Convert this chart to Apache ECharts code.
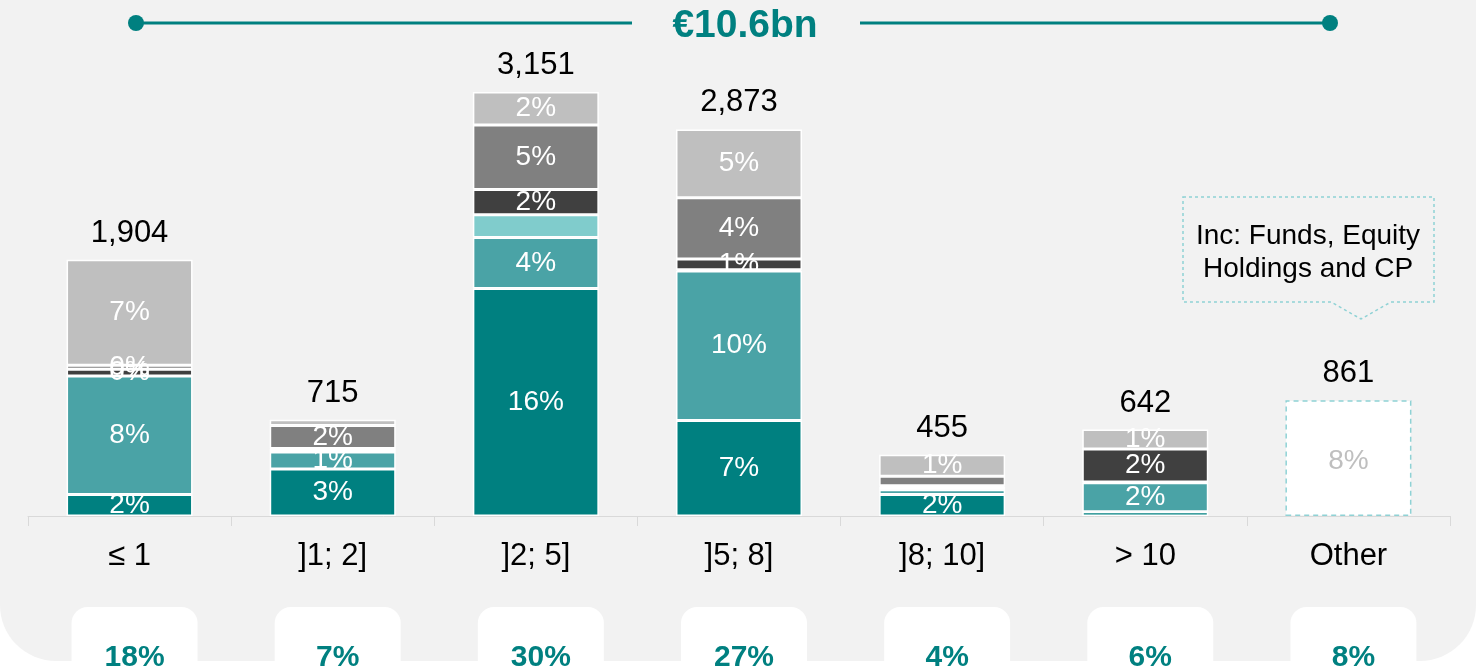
<!DOCTYPE html>
<html>
<head>
<meta charset="utf-8">
<script src="https://cdn.jsdelivr.net/npm/echarts/dist/echarts.min.js"></script>
<style>
  html, body { margin: 0; padding: 0; background: #fff; }
  #chart { width: 1476px; height: 669px; }
</style>
</head>
<body>
<div id="chart"></div>
<script>
const font = "'Liberation Sans', Arial, sans-serif";

// maturity buckets (years) and amounts in EUR m, stacked bottom -> top
const categories = ["≤ 1", "]1; 2]", "]2; 5]", "]5; 8]", "]8; 10]", "> 10", "Other"];
const darkTeal  = [160, 350, 1690, 710, 160, 32, "-"];
const midTeal   = [880, 125, 380, 1110, 35, 215, "-"];
const lightTeal = [0, 22, 168, 10, 22, 5, "-"];
const darkGray  = [50, 5, 188, 80, 8, 245, "-"];
const midGray   = [30, 170, 480, 455, 70, 0, "-"];
const lightGray = [784, 43, 245, 508, 160, 145, "-"];
const other     = ["-", "-", "-", "-", "-", "-", 861];

// segment labels as printed on the chart
const darkTealPct  = ["2%", "3%", "16%", "7%", "2%", "", ""];
const midTealPct   = ["8%", "1%", "4%", "10%", "", "2%", ""];
const darkGrayPct  = ["0%", "", "2%", "1%", "", "2%", ""];
const midGrayPct   = ["0%", "2%", "5%", "4%", "", "", ""];
const lightGrayPct = ["7%", "", "2%", "5%", "1%", "1%", ""];
const otherPct     = ["", "", "", "", "", "", "8%"];

const totals = [1904, 715, 3151, 2873, 455, 642, 861];
const grandTotal = totals.reduce((a, b) => a + b, 0);

const segment = (name, data, color, pct) => ({
    name: name,
    type: "bar",
    stack: "total",
    data: data,
    barWidth: 126,
    itemStyle: { color: color, borderColor: "#fff", borderWidth: 1.5 },
    label: {
        show: pct !== null,
        position: "inside",
        color: "#fff",
        fontSize: 28,
        fontFamily: font,
        formatter: p => pct ? pct[p.dataIndex] : ""
    }
});

const series = [
    segment("darkTeal", darkTeal, "#008080", darkTealPct),
    segment("midTeal", midTeal, "#4aa3a6", midTealPct),
    segment("lightTeal", lightTeal, "#80cccc", null),
    segment("darkGray", darkGray, "#404040", darkGrayPct),
    segment("midGray", midGray, "#808080", midGrayPct),
    segment("lightGray", lightGray, "#bfbfbf", lightGrayPct),
    {
        name: "other",
        type: "bar",
        stack: "total",
        data: other,
        barWidth: 126,
        itemStyle: { color: "#fff", borderColor: "#8fd2d5", borderWidth: 1.5, borderType: [5, 4] },
        label: {
            show: true, position: "inside", offset: [0, 3], color: "#bfbfbf", fontSize: 28, fontFamily: font,
            formatter: p => otherPct[p.dataIndex]
        }
    },
    {
        // invisible bar only carrying the total on top
        name: "total",
        type: "bar",
        data: totals,
        barWidth: 126,
        barGap: "-100%",
        silent: true,
        z: 1,
        itemStyle: { color: "rgba(0,0,0,0)" },
        label: {
            show: true, position: "top", distance: 11, color: "#000", fontSize: 31, fontFamily: font,
            formatter: p => p.value.toLocaleString("en-US")
        }
    },
    {
        // share boxes under the axis
        name: "share",
        type: "bar",
        xAxisIndex: 1,
        yAxisIndex: 1,
        data: totals.map(() => 1),
        barWidth: 126,
        silent: true,
        itemStyle: { color: "#fff", borderRadius: [16, 16, 0, 0] },
        label: {
            show: true, position: "inside", offset: [0, 20], color: "#008080", fontSize: 30,
            fontWeight: "bold", fontFamily: font,
            formatter: p => Math.round(totals[p.dataIndex] / grandTotal * 100) + "%"
        }
    }
];

const teal = "#008080";
const calloutStroke = "#8fd2d5";

const option = {
    animation: false,
    backgroundColor: "#fff",
    grid: [
        { left: 28, right: 26, top: 45, bottom: 153, outerBoundsMode: "none" },
        { left: 33, right: 21, top: 607, bottom: 0, outerBoundsMode: "none" }
    ],
    xAxis: [
        {
            type: "category",
            data: categories,
            axisLine: { lineStyle: { color: "#d9d9d9", width: 1 } },
            axisTick: { show: true, length: 10, lineStyle: { color: "#d9d9d9" } },
            axisLabel: { color: "#000", fontSize: 31, fontFamily: font, margin: 25, interval: 0 }
        },
        {
            type: "category",
            gridIndex: 1,
            data: categories,
            show: false
        }
    ],
    yAxis: [
        { type: "value", min: 0, max: 3500, show: false },
        { type: "value", gridIndex: 1, min: 0, max: 1, show: false }
    ],
    graphic: [
        {
            type: "rect", silent: true, z: -10,
            shape: { x: 0, y: 0, width: 1476, height: 661, r: [0, 0, 56, 56] },
            style: { fill: "#f2f2f2" }
        },
        { type: "line", silent: true, shape: { x1: 136, y1: 23, x2: 632, y2: 23 }, style: { stroke: teal, lineWidth: 3 } },
        { type: "line", silent: true, shape: { x1: 860, y1: 23, x2: 1330, y2: 23 }, style: { stroke: teal, lineWidth: 3 } },
        { type: "circle", silent: true, shape: { cx: 136, cy: 23, r: 8 }, style: { fill: teal } },
        { type: "circle", silent: true, shape: { cx: 1330, cy: 23, r: 8 }, style: { fill: teal } },
        {
            type: "text", silent: true, x: 745, y: 26,
            style: {
                text: "€" + (grandTotal / 1000).toFixed(1) + "bn",
                font: "bold 39px " + font, fill: teal, align: "center", verticalAlign: "middle"
            }
        },
        {
            type: "polygon", silent: true,
            shape: { points: [[1183, 197], [1434, 197], [1434, 302], [1391, 302], [1361, 319], [1331, 302], [1183, 302]] },
            style: { fill: "none", stroke: calloutStroke, lineWidth: 1.5, lineDash: [3, 3] }
        },
        {
            type: "text", silent: true, x: 1308, y: 253,
            style: {
                text: "Inc: Funds, Equity\nHoldings and CP",
                font: "28px " + font, fill: "#000", align: "center", verticalAlign: "middle", lineHeight: 33
            }
        }
    ],
    series: series
};

const myChart = echarts.init(document.getElementById("chart"));
myChart.setOption(option);
</script>
</body>
</html>
